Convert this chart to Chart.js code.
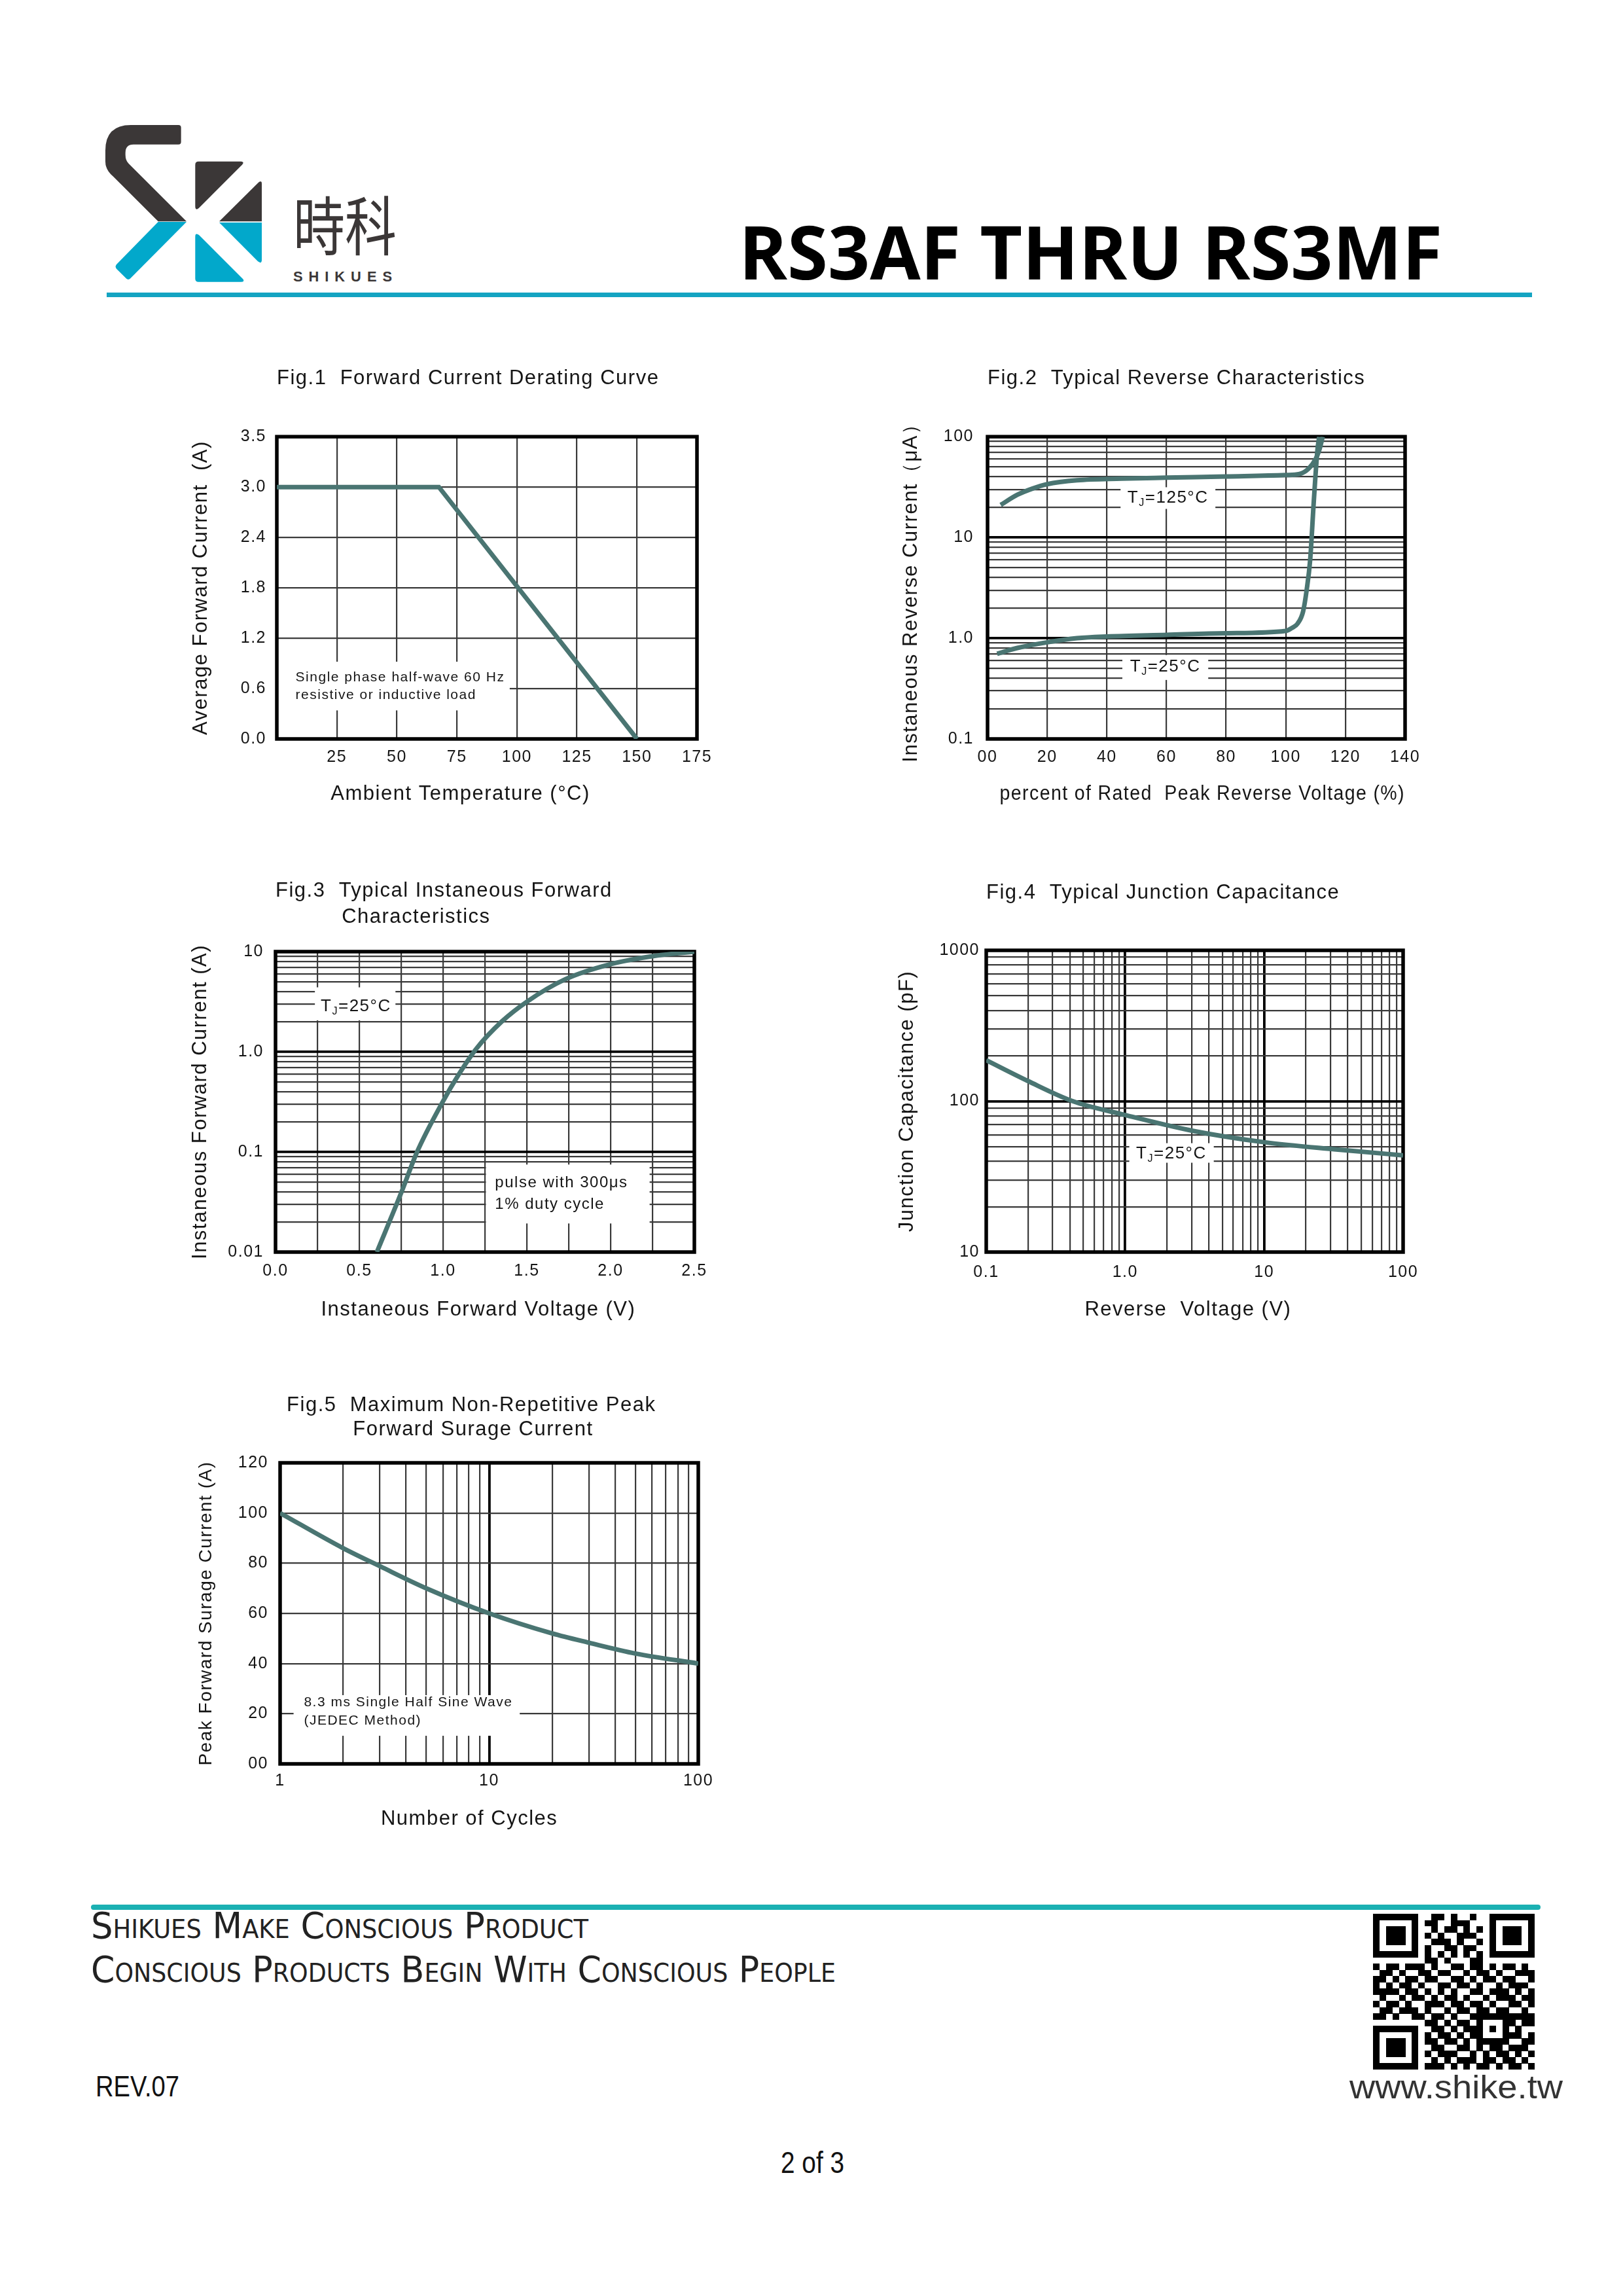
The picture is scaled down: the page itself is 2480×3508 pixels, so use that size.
<!DOCTYPE html>
<html>
<head>
<meta charset="utf-8">
<title>RS3AF THRU RS3MF</title>
<script src="https://cdn.jsdelivr.net/npm/chart.js@4"></script>
<style>
  html, body { margin: 0; padding: 0; background: #fff; }
  #page { position: relative; width: 2480px; height: 3508px; background: #fff; overflow: hidden; }
  .txt { position: absolute; white-space: nowrap; transform-origin: 0 0; line-height: 1; }
  canvas { position: absolute; }
  .foot { font-family: 'DejaVu Sans Condensed', 'Liberation Sans Narrow', sans-serif; font-variant: small-caps; font-size: 56px; color: #222; }
</style>
</head>
<body>
<div id="page">
  <!-- logo -->
  <svg style="position:absolute;left:150px;top:180px" width="480" height="280" viewBox="0 0 1440 840">
    <path fill="#3b3737" d="M368 33 L150 33 Q33 33 33 150 L33 200 Q33 240 70 270 L275 475 L405 475 L140 210 Q125 195 125 170 L125 160 Q125 122 162 122 L368 122 Q380 122 380 110 L380 45 Q380 33 368 33 Z"/>
    <path fill="#02a8cb" d="M275 477 L405 477 L148 736 Q138 746 128 736 L84 692 Q76 682 84 672 Z"/>
    <path fill="#3b3737" d="M460 200 L655 200 Q672 202 660 215 L462 413 Q445 428 445 405 L445 215 Q445 200 460 200 Z"/>
    <path fill="#3b3737" d="M735 296 Q750 285 750 302 L750 475 L555 475 Z"/>
    <path fill="#02a8cb" d="M555 480 L750 480 L750 650 Q750 672 732 658 Z"/>
    <path fill="#02a8cb" d="M462 537 L665 740 Q672 752 655 752 L460 752 Q445 752 445 737 L445 545 Q445 525 462 537 Z"/>
  </svg>
  <div class="txt" data-w="158" style="left:448px;top:268px;font:400 98px 'Noto Sans CJK SC';color:#3b3737">時科</div>
  <div class="txt" data-w="160" style="left:448px;top:410px;font:700 22px 'Liberation Sans';letter-spacing:9px;color:#3b3737">SHIKUES</div>
  <div class="txt" data-w="1075" style="left:1129px;top:306px;font:700 113px 'Open Sans';color:#000">RS3AF THRU RS3MF</div>
  <div style="position:absolute;left:163px;top:447px;width:2178px;height:7px;background:#14a4c2"></div>

  <canvas id="fig1" width="860" height="730" style="left:270px;top:530px"></canvas>
  <canvas id="fig2" width="860" height="730" style="left:1360px;top:530px"></canvas>
  <canvas id="fig3" width="860" height="740" style="left:270px;top:1300px"></canvas>
  <canvas id="fig4" width="860" height="740" style="left:1360px;top:1300px"></canvas>
  <canvas id="fig5" width="860" height="740" style="left:270px;top:2080px"></canvas>

  <!-- footer -->
  <div style="position:absolute;left:139px;top:2910px;width:2215px;height:8px;border-radius:4px;background:#1bb1b3"></div>
  <div class="txt foot" data-w="760" style="left:139px;top:2914px">Shikues Make Conscious Product</div>
  <div class="txt foot" data-w="1138" style="left:139px;top:2981px">Conscious Products Begin With Conscious People</div>
  <div class="txt" data-w="128" style="left:146px;top:3163px;font:400 44px 'Liberation Sans';color:#111">REV.07</div>
  <svg id="qr" style="position:absolute;left:2098px;top:2924px" width="247" height="238" viewBox="0 0 25 25" preserveAspectRatio="none" shape-rendering="crispEdges"></svg>
  <div class="txt" data-w="326" style="left:2062px;top:3160px;font:400 50px 'Liberation Sans';color:#333">www.shike.tw</div>
  <div class="txt" data-w="97" style="left:1193px;top:3277px;font:400 46px 'Liberation Sans';color:#111">2 of 3</div>
</div>

<script>
// Fig.1 Forward Current Derating Curve
const fig1Temp = [0, 67.5, 150]
const fig1Current = [3.0, 3.0, 0.0]
const fig1TempTicks = [0, 25, 50, 75, 100, 125, 150, 175]
const fig1TempLabels = ['', '25', '50', '75', '100', '125', '150', '175']
const fig1CurrentTicks = [0, 0.6, 1.2, 1.8, 2.4, 3.0, 3.6]
const fig1CurrentLabels = ['0.0', '0.6', '1.2', '1.8', '2.4', '3.0', '3.5']

// Fig.2 Typical Reverse Characteristics
const fig2Pct125 = [4.4, 10, 15, 20, 30, 45, 60, 80, 100, 104.6, 107.6, 110, 111.2, 112.4]
const fig2Ir125 = [21, 26.5, 30.5, 33.8, 36.9, 38.3, 39.2, 40.3, 41.6, 42.7, 48, 60, 73, 100]
const fig2Pct25 = [3.2, 10, 20, 30, 40, 60, 80, 100, 102, 104, 105.8, 107, 108.2, 109.4, 110.6, 111.2]
const fig2Ir25 = [0.70, 0.80, 0.91, 1.0, 1.04, 1.08, 1.12, 1.18, 1.26, 1.4, 1.84, 3.0, 6.1, 23, 73, 100]
const fig2PctTicks = [0, 20, 40, 60, 80, 100, 120, 140]
const fig2PctLabels = ['00', '20', '40', '60', '80', '100', '120', '140']
const fig2IrTicks = [0.1, 1, 10, 100]
const fig2IrLabels = ['0.1', '1.0', '10', '100']

// Fig.3 Typical Instaneous Forward Characteristics
const fig3Vf = [0.605, 0.75, 0.845, 0.995, 1.09, 1.2, 1.35, 1.5, 1.73, 2.0, 2.25, 2.5]
const fig3If = [0.01, 0.039, 0.1, 0.31, 0.58, 1.08, 2.0, 3.16, 5.3, 7.5, 9.0, 10]
const fig3VfGrid = [0, 0.25, 0.5, 0.75, 1.0, 1.25, 1.5, 1.75, 2.0, 2.25, 2.5]
const fig3VfTicks = [0, 0.5, 1.0, 1.5, 2.0, 2.5]
const fig3VfLabels = ['0.0', '0.5', '1.0', '1.5', '2.0', '2.5']
const fig3IfTicks = [0.01, 0.1, 1, 10]
const fig3IfLabels = ['0.01', '0.1', '1.0', '10']

// Fig.4 Typical Junction Capacitance
const fig4Vr = [0.1, 0.2, 0.42, 1, 3.1, 10, 32, 100]
const fig4Cj = [187, 136, 100, 81, 63.5, 53.5, 48, 43.8]
const fig4VrTicks = [0.1, 1, 10, 100]
const fig4VrLabels = ['0.1', '1.0', '10', '100']
const fig4CjTicks = [10, 100, 1000]
const fig4CjLabels = ['10', '100', '1000']

// Fig.5 Maximum Non-Repetitive Peak Forward Surage Current
const fig5Cycles = [1, 2, 3, 5, 10, 20, 30, 50, 100]
const fig5Ifsm = [100, 86, 78.8, 70, 60, 52, 48.3, 44, 40]
const fig5CycleTicks = [1, 10, 100]
const fig5CycleLabels = ['1', '10', '100']
const fig5IfsmTicks = [0, 20, 40, 60, 80, 100, 120]
const fig5IfsmLabels = ['00', '20', '40', '60', '80', '100', '120']

const INK = '#151515'
const CURVE = '#4a7572'
const FONT = "'Liberation Sans', Arial, sans-serif"

// 1..9 x 10^n grid lines for a log axis
function logGrid(min, max) {
	const out = []
	for (let e = Math.round(Math.log10(min)); e < Math.round(Math.log10(max)); e++) {
		for (let m = 1; m < 10; m++) out.push(+(m * Math.pow(10, e)).toPrecision(3))
	}
	out.push(max)
	return out
}
const same = (a, b) => Math.abs(a - b) <= Math.abs(b) * 1e-6 + 1e-12

function axis(o) {
	const majors = o.majors || []
	const isMajor = c => c.tick && majors.some(m => same(c.tick.value, m))
	return {
		type: o.type,
		position: o.position,
		min: o.min,
		max: o.max,
		afterBuildTicks: s => { s.ticks = o.grid.map(v => ({ value: v })) },
		afterFit: s => {
			if (o.position === 'left') s.width = o.size
			else s.height = o.size
		},
		ticks: {
			autoSkip: false,
			maxRotation: 0,
			padding: o.pad,
			color: INK,
			font: { family: FONT, size: 25 },
			callback: v => {
				const i = o.at.findIndex(t => same(v, t))
				return i < 0 ? '' : o.labels[i]
			},
		},
		grid: {
			drawTicks: false,
			color: c => (isMajor(c) ? '#000' : '#3a3a3a'),
			lineWidth: c => (isMajor(c) ? 3.8 : 2.2),
		},
		border: { display: false },
		title: {
			display: true,
			text: o.title,
			color: INK,
			padding: 0,
			font: { family: FONT, size: o.titleSize || 31 },
		},
	}
}

// subscript "_J" style text
function drawRich(ctx, text, x, y, align, size) {
	const parts = []
	for (let i = 0; i < text.length; i++) {
		if (text[i] === '_') {
			parts.push({ t: text[i + 1], sub: true })
			i++
		} else if (parts.length && !parts[parts.length - 1].sub) {
			parts[parts.length - 1].t += text[i]
		} else {
			parts.push({ t: text[i], sub: false })
		}
	}
	const font = sub => `${sub ? size * 0.62 : size}px ${FONT}`
	let w = 0
	parts.forEach(p => {
		ctx.font = font(p.sub)
		p.w = ctx.measureText(p.t).width
		w += p.w
	})
	let cx = align === 'center' ? x - w / 2 : x
	ctx.textAlign = 'left'
	ctx.textBaseline = 'middle'
	parts.forEach(p => {
		ctx.font = font(p.sub)
		ctx.fillText(p.t, cx, p.sub ? y + size * 0.3 : y)
		cx += p.w
	})
}

const spacing = {
	id: 'spacing',
	beforeUpdate(chart) { chart.ctx.letterSpacing = '1.5px' },
	beforeDraw(chart) { chart.ctx.letterSpacing = '1.5px' },
}

// white label boxes + heavy frame
const notes = {
	id: 'notes',
	beforeDatasetsDraw(chart, args, opts) {
		const { ctx, chartArea: a } = chart
		const sx = chart.scales.x
		const sy = chart.scales.y
		;(opts.boxes || []).forEach(b => {
			const x0 = sx.getPixelForValue(b.x0)
			const x1 = sx.getPixelForValue(b.x1)
			const y0 = sy.getPixelForValue(b.y1)
			const y1 = sy.getPixelForValue(b.y0)
			ctx.save()
			ctx.fillStyle = '#fff'
			ctx.fillRect(x0, y0, x1 - x0, y1 - y0)
			ctx.fillStyle = INK
			b.lines.forEach(l => {
				drawRich(ctx, l.text, sx.getPixelForValue(l.x), sy.getPixelForValue(l.y), b.align, b.size)
			})
			ctx.restore()
		})
		ctx.save()
		ctx.strokeStyle = '#000'
		ctx.lineWidth = 5.5
		ctx.strokeRect(a.left, a.top, a.right - a.left, a.bottom - a.top)
		ctx.restore()
	},
}

function figure(id, o) {
	return new Chart(document.getElementById(id), {
		type: 'scatter',
		data: {
			datasets: o.series.map(s => ({
				data: s[0].map((x, i) => ({ x, y: s[1][i] })),
				showLine: true,
				borderColor: CURVE,
				borderWidth: 7,
				pointRadius: 0,
				tension: o.straight ? 0 : 0.4,
				cubicInterpolationMode: o.straight ? 'default' : 'monotone',
			})),
		},
		options: {
			responsive: false,
			animation: false,
			devicePixelRatio: 1,
			events: [],
			layout: { padding: o.padding },
			plugins: {
				legend: { display: false },
				tooltip: { enabled: false },
				title: {
					display: true,
					text: o.title,
					align: 'start',
					fullSize: false,
					color: INK,
					font: { family: FONT, size: 31, weight: 'normal', lineHeight: o.titleLine },
					padding: o.titlePad,
				},
				notes: { boxes: o.notes || [] },
			},
			scales: { x: axis(o.x), y: axis(o.y) },
		},
		plugins: [spacing, notes],
	})
}

// trailing spaces nudge the centred axis titles the way the sheet has them
figure('fig1', {
	title: 'Fig.1  Forward Current Derating Curve',
	titleLine: 1.2,
	titlePad: { top: 30, bottom: 70 },
	padding: { left: 18.4, right: 65, top: 0, bottom: 28.4 },
	straight: true,
	series: [[fig1Temp, fig1Current]],
	x: { type: 'linear', position: 'bottom', min: 0, max: 175, grid: fig1TempTicks, at: fig1TempTicks, labels: fig1TempLabels, size: 102.6, pad: 13, title: 'Ambient Temperature (°C)        ' },
	y: { type: 'linear', position: 'left', min: 0, max: 3.6, grid: fig1CurrentTicks, at: fig1CurrentTicks, labels: fig1CurrentLabels, size: 134.6, pad: 16, title: 'Average Forward Current  (A)' },
	notes: [{
		x0: 0.5, x1: 97, y0: 0.34, y1: 0.92, size: 21, align: 'left',
		lines: [{ text: 'Single phase half-wave 60 Hz', x: 7.8, y: 0.73 }, { text: 'resistive or inductive load', x: 7.8, y: 0.52 }],
	}],
})

figure('fig2', {
	title: 'Fig.2  Typical Reverse Characteristics',
	titleLine: 1.2,
	titlePad: { top: 30, bottom: 70 },
	padding: { left: 13.4, right: 73, top: 0, bottom: 28.4 },
	series: [[fig2Pct125, fig2Ir125], [fig2Pct25, fig2Ir25]],
	x: { type: 'linear', position: 'bottom', min: 0, max: 140, grid: fig2PctTicks, at: fig2PctTicks, labels: fig2PctLabels, size: 102.6, pad: 13, title: '  percent of Rated  Peak Reverse Voltage (%)' },
	y: { type: 'logarithmic', position: 'left', min: 0.1, max: 100, grid: logGrid(0.1, 100), majors: [1, 10], at: fig2IrTicks, labels: fig2IrLabels, size: 135.6, pad: 21, title: 'Instaneous Reverse Current（μA）' },
	notes: [
		{ x0: 44.6, x1: 76.4, y0: 19.2, y1: 31.5, size: 26, align: 'center', lines: [{ text: 'T_J=125°C', x: 60.5, y: 24.6 }] },
		{ x0: 45.2, x1: 74, y0: 0.385, y1: 0.68, size: 26, align: 'center', lines: [{ text: 'T_J=25°C', x: 59.6, y: 0.52 }] },
	],
})

figure('fig3', {
	title: ['Fig.3  Typical Instaneous Forward', '          Characteristics'],
	titleLine: 1.29,
	titlePad: { top: 41.5, bottom: 32.5 },
	padding: { left: 17.4, right: 69, top: 0, bottom: 20.4 },
	series: [[fig3Vf, fig3If]],
	x: { type: 'linear', position: 'bottom', min: 0, max: 2.5, grid: fig3VfGrid, at: fig3VfTicks, labels: fig3VfLabels, size: 106.6, pad: 14, title: 'Instaneous Forward Voltage (V)  ' },
	y: { type: 'logarithmic', position: 'left', min: 0.01, max: 10, grid: logGrid(0.01, 10), majors: [0.1, 1], at: fig3IfTicks, labels: fig3IfLabels, size: 133.6, pad: 18, title: 'Instaneous Forward Current (A)' },
	notes: [
		{ x0: 0.235, x1: 0.716, y0: 2.06, y1: 4.4, size: 26, align: 'center', lines: [{ text: 'T_J=25°C', x: 0.48, y: 2.85 }] },
		{ x0: 1.256, x1: 2.233, y0: 0.0193, y1: 0.0748, size: 24, align: 'left', lines: [{ text: 'pulse with 300μs', x: 1.31, y: 0.049 }, { text: '1% duty cycle', x: 1.31, y: 0.0297 }] },
	],
})

figure('fig4', {
	title: 'Fig.4  Typical Junction Capacitance',
	titleLine: 1.2,
	titlePad: { top: 45.4, bottom: 69.4 },
	padding: { left: 7.4, right: 76, top: 0, bottom: 20.4 },
	series: [[fig4Vr, fig4Cj]],
	x: { type: 'logarithmic', position: 'bottom', min: 0.1, max: 100, grid: logGrid(0.1, 100), majors: [1, 10], at: fig4VrTicks, labels: fig4VrLabels, size: 106.6, pad: 16, title: 'Reverse  Voltage (V)  ' },
	y: { type: 'logarithmic', position: 'left', min: 10, max: 1000, grid: logGrid(10, 1000), majors: [100], at: fig4CjTicks, labels: fig4CjLabels, size: 139.6, pad: 10, title: 'Junction Capacitance (pF)' },
	notes: [
		{ x0: 1.07, x1: 4.34, y0: 39.1, y1: 52.7, size: 26, align: 'center', lines: [{ text: 'T_J=25°C', x: 2.15, y: 45 }] },
	],
})

figure('fig5', {
	title: [' Fig.5  Maximum Non-Repetitive Peak', '           Forward Surage Current'],
	titleLine: 1.194,
	titlePad: { top: 48.5, bottom: 32.5 },
	padding: { left: 28.2, right: 63, top: 0, bottom: 22.4 },
	series: [[fig5Cycles, fig5Ifsm]],
	x: { type: 'logarithmic', position: 'bottom', min: 1, max: 100, grid: logGrid(1, 100), majors: [10], at: fig5CycleTicks, labels: fig5CycleLabels, size: 102.6, pad: 11, title: 'Number of Cycles      ' },
	y: { type: 'linear', position: 'left', min: 0, max: 120, grid: fig5IfsmTicks, at: fig5IfsmTicks, labels: fig5IfsmLabels, size: 129.8, pad: 18, title: 'Peak Forward Surage Current (A)', titleSize: 28 },
	notes: [{
		x0: 1.16, x1: 14, y0: 11.2, y1: 27.4, size: 21, align: 'left',
		lines: [{ text: '8.3 ms Single Half Sine Wave', x: 1.3, y: 24.4 }, { text: '(JEDEC Method)', x: 1.3, y: 17.2 }],
	}],
})

// QR code decoration
const qrData = [
	'0000000001101001000000000',
	'0000000011001110000000000',
	'0000000001011010100000000',
	'0000000010100111000000000',
	'0000000001110100100000000',
	'0000000010011011000000000',
	'0000000010101010100000000',
	'0000000011010001100000000',
	'1011011101001101101011010',
	'0110100110110010110100111',
	'1101011011001101011011001',
	'1010110100110110100101110',
	'1111011010101001101110101',
	'0100101101011010010111011',
	'1011010011101101101001101',
	'0110111010010110110110010',
	'1101001101101001011011111',
	'0000000011010110110001011',
	'0000000001101011010110100',
	'0000000010110101101101101',
	'0000000011011010011010011',
	'0000000001100110101101110',
	'0000000010111001010110101',
	'0000000001010111011011010',
	'0000000011101010110101101',
]
const qr = qrData.map(r => r.padEnd(25, '0').slice(0, 25).split('').map(Number))
function finder(r0, c0) {
	for (let r = -1; r <= 7; r++) {
		for (let c = -1; c <= 7; c++) {
			const rr = r0 + r, cc = c0 + c
			if (rr < 0 || cc < 0 || rr > 24 || cc > 24) continue
			const ring = Math.max(Math.abs(r - 3), Math.abs(c - 3))
			qr[rr][cc] = ring === 4 || ring === 2 ? 0 : 1
		}
	}
}
finder(0, 0)
finder(0, 18)
finder(18, 0)
for (let r = -2; r <= 2; r++) {
	for (let c = -2; c <= 2; c++) {
		const ring = Math.max(Math.abs(r), Math.abs(c))
		qr[18 + r][18 + c] = ring === 1 ? 0 : 1
	}
}
const qrSvg = document.getElementById('qr')
qr.forEach((row, r) => row.forEach((v, c) => {
	if (!v) return
	const rect = document.createElementNS('http://www.w3.org/2000/svg', 'rect')
	rect.setAttribute('x', c)
	rect.setAttribute('y', r)
	rect.setAttribute('width', 1.02)
	rect.setAttribute('height', 1.02)
	rect.setAttribute('fill', '#000')
	qrSvg.appendChild(rect)
}))

// squeeze page texts to their measured widths
function fitText() {
	document.querySelectorAll('[data-w]').forEach(el => {
		el.style.transform = 'none'
		const w = el.getBoundingClientRect().width
		if (w > 0) el.style.transform = `scaleX(${+el.dataset.w / w})`
	})
}
fitText()
document.fonts.ready.then(fitText)
</script>
</body>
</html>
